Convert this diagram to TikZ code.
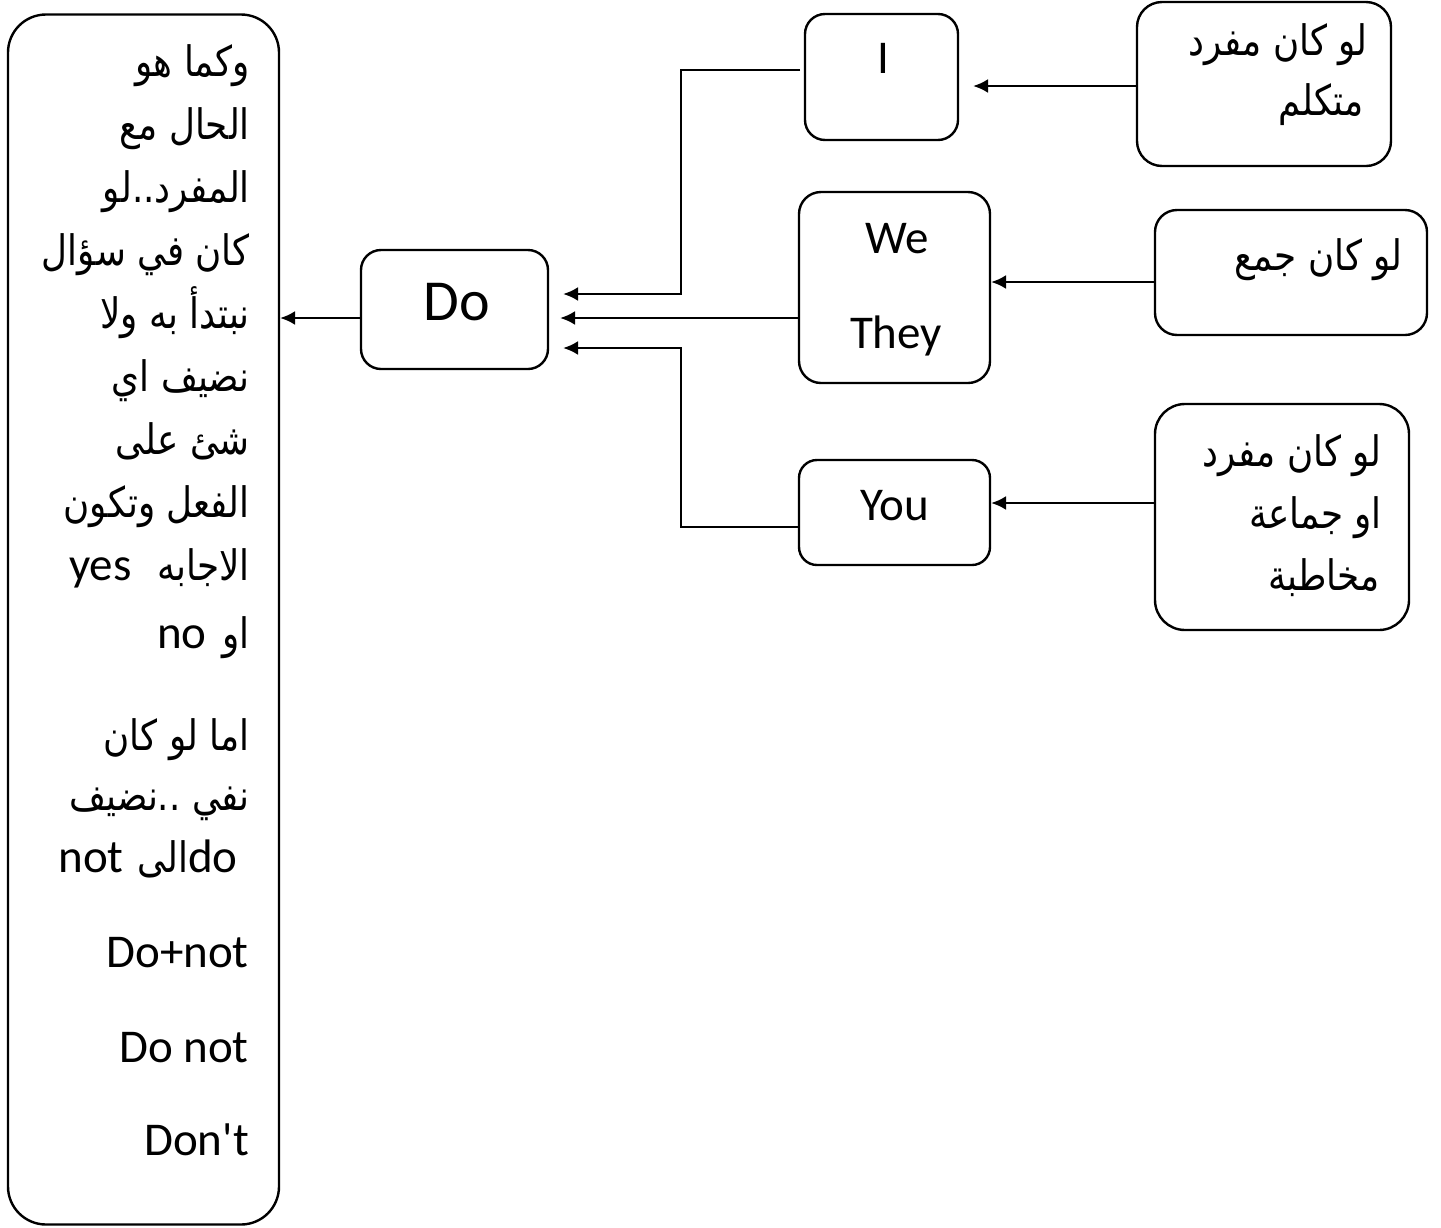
\documentclass[tikz,border=0pt]{standalone}
\usepackage{fontspec}
\setmainfont{Carlito}
\newfontfamily\enfont{Carlito}
\newfontfamily\arabicfont[Script=Arabic,FakeStretch=0.85]{DejaVu Sans}
\TeXXeTstate=1
\usetikzlibrary{arrows.meta}
\newcommand\myar{\arabicfont\fontsize{42}{48}\selectfont}
\newcommand\myen{\enfont\fontsize{47}{56}\selectfont}
\begin{document}
\begin{tikzpicture}[x=1pt,y=-1pt,
  box/.style={draw, line width=2.4pt, inner sep=0pt, outer sep=0pt},
  conn/.style={line width=2.8pt},
  arr/.style={conn, -{Latex[length=15pt,width=14pt]}},
  ar/.style={font=\myar, inner sep=0pt, anchor=base east},
  en/.style={font=\myen, inner sep=0pt, anchor=base east},
  enc/.style={font=\myen, inner sep=0pt, anchor=base}]
\useasboundingbox (0,0) rectangle (1441,1227);

% boxes
\node[box, minimum width=271pt, minimum height=1210pt, rounded corners=38pt] (L) at (143.5,619.5) {};
\node[box, minimum width=187pt, minimum height=119pt, rounded corners=20pt] (Do) at (454.5,309.5) {};
\node[box, minimum width=153pt, minimum height=126pt, rounded corners=20pt] (I) at (881.5,77) {};
\node[box, minimum width=191pt, minimum height=191pt, rounded corners=22pt] (WT) at (894.5,287.5) {};
\node[box, minimum width=191pt, minimum height=105pt, rounded corners=18pt] (You) at (894.5,512.5) {};
\node[box, minimum width=254pt, minimum height=164pt, rounded corners=25pt] (R1) at (1264,84) {};
\node[box, minimum width=272pt, minimum height=125pt, rounded corners=22pt] (R2) at (1291,272.5) {};
\node[box, minimum width=254pt, minimum height=226pt, rounded corners=30pt] (R3) at (1282,517) {};

% connectors
\coordinate (j1) at (681,0);
\draw[arr] (Do.west |- 0,318) -- ([xshift=1pt]L.east |- 0,318);
\draw[arr] ([xshift=-5pt]I.west |- 0,70) -- (j1 |- 0,70) -- (j1 |- 0,294) -- ([xshift=15pt]Do.east |- 0,294);
\draw[arr] (WT.west |- 0,318) -- ([xshift=12pt]Do.east |- 0,318);
\draw[arr] (You.west |- 0,527) -- (j1 |- 0,527) -- (j1 |- 0,348) -- ([xshift=15pt]Do.east |- 0,348);
\draw[arr] (R1.west |- 0,86) -- ([xshift=15pt]I.east |- 0,86);
\draw[arr] (R2.west |- 0,282) -- ([xshift=1pt]WT.east |- 0,282);
\draw[arr] (R3.west |- 0,503) -- ([xshift=1pt]You.east |- 0,503);

% English labels
\node[enc, font=\enfont\fontsize{58}{64}\selectfont] (tDo) at (457,320) {Do};
\node[enc] (tI) at (883,73) {I};
\node[enc] (tWe) at (897,253) {We};
\node[enc] (tThey) at (896,348) {They};
\node[enc] (tYou) at (895,520) {You};

% left box text
\node[ar] (l1) at (250,76) {\beginR وكما هو\endR};
\node[ar] (l2) at (250,139) {\beginR الحال مع\endR};
\node[ar] (l3) at (250,202) {\beginR المفرد..لو\endR};
\node[ar] (l4) at (250,265) {\beginR كان في سؤال\endR};
\node[ar] (l5) at (250,328) {\beginR نبتدأ به ولا\endR};
\node[ar] (l6) at (250,391) {\beginR نضيف اي\endR};
\node[ar] (l7) at (250,454) {\beginR شئ على\endR};
\node[ar] (l8) at (250,517) {\beginR الفعل وتكون\endR};
\node[ar] (l9) at (250,580) {{\myen yes}\hspace{26pt}\beginR الاجابه\endR};
\node[ar] (l10) at (250,648) {{\myen no}\hspace{16pt}\beginR او\endR};
\node[ar] (l11) at (250,750) {\beginR اما لو كان\endR};
\node[ar] (l12) at (250,810) {\beginR نفي ..نضيف\endR};
\node[ar] (l13) at (238,872) {{\myen not}\hspace{14pt}\beginR الى\endR{\myen do}};
\node[en] (l14) at (249,967) {Do+not};
\node[en] (l15) at (249,1062) {Do not};
\node[en] (l16) at (249,1155) {Don't};

% right boxes text
\node[ar] (r1a) at (1368,55) {\beginR لو كان مفرد\endR};
\node[ar] (r1b) at (1364,115) {\beginR متكلم\endR};
\node[ar] (r2a) at (1403,270) {\beginR لو كان جمع\endR};
\node[ar] (r3a) at (1382,466) {\beginR لو كان مفرد\endR};
\node[ar] (r3b) at (1382,528) {\beginR او جماعة\endR};
\node[ar] (r3c) at (1380,590) {\beginR مخاطبة\endR};
\end{tikzpicture}
\end{document}
